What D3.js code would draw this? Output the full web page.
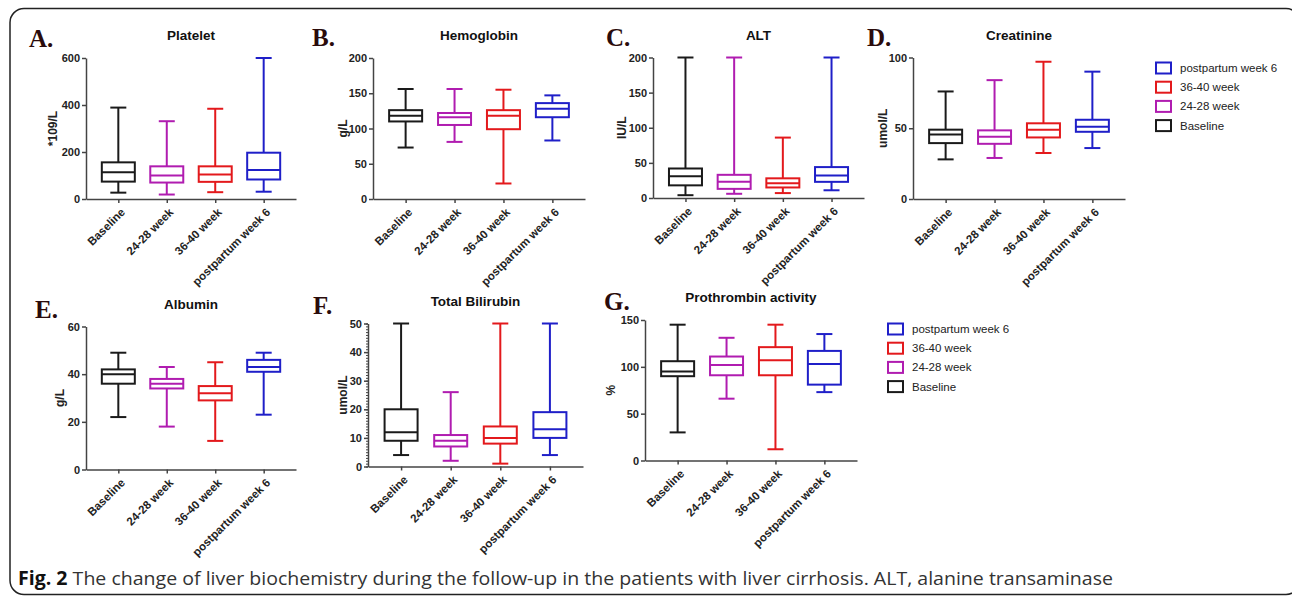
<!DOCTYPE html>
<html>
<head>
<meta charset="utf-8">
<script src="https://cdn.jsdelivr.net/npm/d3@7"></script>
<style>
  body { margin: 0; background: #fff; }
  svg { display: block; }
  .tick text { font-family: Arial, "Liberation Sans", sans-serif; font-weight: bold; font-size: 11px; fill: #222; }
  .xaxis .tick text { font-size: 11.5px; }
  .domain, .tick line { stroke: #444; stroke-width: 1.5; }
</style>
</head>
<body>
<script>
// Groups (x categories)
const groups = ["Baseline", "24-28 week", "36-40 week", "postpartum week 6"];

// Box stats per group: [min, q1, median, q3, max]
const platelet    = [[27, 74, 114, 156, 389], [19, 70, 100, 139, 331], [29, 73, 104, 139, 384], [31, 83, 123, 197, 600]];
const hemoglobin  = [[73, 110, 118, 126, 156], [81, 105, 116, 122, 156], [22, 99, 118, 126, 155], [83, 116, 128, 136, 147]];
const alt         = [[4, 18, 31, 42, 200], [6, 13, 23, 33, 200], [7, 15, 21, 28, 86], [11, 23, 32, 44, 200]];
const creatinine  = [[28, 39.5, 45.5, 49, 76], [29, 39, 44, 48.5, 84], [32.5, 43.5, 49, 53.5, 97], [36, 47.5, 51, 56, 90]];
const albumin     = [[22, 36, 40, 42, 49], [18, 34, 36, 38, 43], [12, 29, 32, 35, 45], [23, 41, 43, 46, 49]];
const bilirubin   = [[4, 9, 12, 20, 50], [2, 7, 9, 11, 26], [1, 8, 10, 14, 50], [4, 10, 13, 19, 50]];
const prothrombin = [[30, 90, 95, 106, 145], [66, 91, 102, 111, 131], [12, 91, 107, 121, 145], [73, 81, 103, 117, 135]];

// Tick values
const plateletTicks    = [0, 200, 400, 600];
const hemoglobinTicks  = [0, 50, 100, 150, 200];
const altTicks         = [0, 50, 100, 150, 200];
const creatinineTicks  = [0, 50, 100];
const albuminTicks     = [0, 20, 40, 60];
const bilirubinTicks   = [0, 10, 20, 30, 40, 50];
const prothrombinTicks = [0, 50, 100, 150];

const legendOrder = ["postpartum week 6", "36-40 week", "24-28 week", "Baseline"];
const caption = "The change of liver biochemistry during the follow-up in the patients with liver cirrhosis. ALT, alanine transaminase";

const color = d3.scaleOrdinal()
    .domain(groups)
    .range(["#1a1a1a", "#b01cb0", "#e3191c", "#1f1fc8"]);

// Panel layout (pixel positions)
const panels = [
  { letter: "A.", title: "Platelet", data: platelet, ticks: plateletTicks, unit: "*109/L",
    x0: 86, x1: 296, top: 58, bottom: 199, lx: 29, ly: 47, yl: 33 },
  { letter: "B.", title: "Hemoglobin", data: hemoglobin, ticks: hemoglobinTicks, unit: "g/L",
    x0: 373, x1: 585, top: 58, bottom: 199, lx: 312, ly: 46, yl: 30 },
  { letter: "C.", title: "ALT", data: alt, ticks: altTicks, unit: "IU/L",
    x0: 653, x1: 864, top: 57.5, bottom: 198, lx: 606, ly: 46, yl: 31 },
  { letter: "D.", title: "Creatinine", data: creatinine, ticks: creatinineTicks, unit: "umol/L",
    x0: 913, x1: 1125, top: 57.5, bottom: 199, lx: 867, ly: 46, yl: 30, legend: [1156, 68] },
  { letter: "E.", title: "Albumin", data: albumin, ticks: albuminTicks, unit: "g/L",
    x0: 86, x1: 296, top: 326.5, bottom: 469.5, lx: 35, ly: 318, yl: 26 },
  { letter: "F.", title: "Total Bilirubin", data: bilirubin, ticks: bilirubinTicks, unit: "umol/L",
    x0: 368, x1: 583, top: 323.5, bottom: 466.5, lx: 313, ly: 314, yl: 25, minor: 1 },
  { letter: "G.", title: "Prothrombin activity", data: prothrombin, ticks: prothrombinTicks, unit: "%",
    x0: 645, x1: 857, top: 320, bottom: 460.5, lx: 604, ly: 310, yl: 34, legend: [888, 329] }
];

const W = 1292, H = 599;
const svg = d3.select("body").append("svg")
    .attr("width", W)
    .attr("height", H);

// Outer frame
svg.append("rect")
    .attr("x", 10).attr("y", 8.5)
    .attr("width", 1290).attr("height", 586)
    .attr("rx", 14)
    .attr("fill", "none")
    .attr("stroke", "#222")
    .attr("stroke-width", 1.5);

const boxW = 33, capW = 16;

panels.forEach(p => {
  const g = svg.append("g");

  const x = d3.scalePoint()
      .domain(groups)
      .range([p.x0, p.x1])
      .padding(0.667);

  const y = d3.scaleLinear()
      .domain([0, d3.max(p.ticks)])
      .range([p.bottom, p.top]);

  // minor ticks (Total Bilirubin)
  if (p.minor) {
    g.append("g")
     .attr("transform", `translate(${p.x0},0)`)
     .call(d3.axisLeft(y).tickValues(d3.range(0, d3.max(p.ticks) + 0.01, p.minor)).tickSize(2).tickFormat(""))
     .call(a => a.select(".domain").remove())
     .selectAll("line").style("stroke-width", 1);
  }

  g.append("g")
   .attr("transform", `translate(${p.x0},0)`)
   .call(d3.axisLeft(y).tickValues(p.ticks).tickSize(4).tickSizeOuter(0).tickPadding(2));

  g.append("g")
   .attr("class", "xaxis")
   .attr("transform", `translate(0,${p.bottom})`)
   .call(d3.axisBottom(x).tickSize(4).tickSizeOuter(0))
   .selectAll("text")
   .attr("x", 0).attr("y", 0).attr("dy", "0.35em")
   .attr("text-anchor", "end")
   .attr("transform", "translate(4,11) rotate(-45)");

  // Boxes
  const box = g.selectAll(".box")
      .data(p.data.map((s, i) => ({ key: groups[i], s: s })))
      .enter().append("g")
      .attr("class", "box")
      .attr("stroke", d => color(d.key))
      .attr("stroke-width", 2)
      .attr("fill", "none");

  box.append("line")
     .attr("x1", d => x(d.key)).attr("x2", d => x(d.key))
     .attr("y1", d => y(d.s[0])).attr("y2", d => y(d.s[4]));

  box.selectAll(".cap")
     .data(d => [d.s[0], d.s[4]].map(v => ({ key: d.key, v: v })))
     .enter().append("line")
     .attr("x1", d => x(d.key) - capW / 2).attr("x2", d => x(d.key) + capW / 2)
     .attr("y1", d => y(d.v)).attr("y2", d => y(d.v));

  box.append("rect")
     .attr("x", d => x(d.key) - boxW / 2)
     .attr("y", d => y(d.s[3]))
     .attr("width", boxW)
     .attr("height", d => y(d.s[1]) - y(d.s[3]))
     .attr("fill", "#fff");

  box.append("line")
     .attr("x1", d => x(d.key) - boxW / 2).attr("x2", d => x(d.key) + boxW / 2)
     .attr("y1", d => y(d.s[2])).attr("y2", d => y(d.s[2]));

  // Title
  g.append("text")
   .attr("x", (p.x0 + p.x1) / 2)
   .attr("y", p.top - 18)
   .attr("text-anchor", "middle")
   .style("font-family", "Arial, 'Liberation Sans', sans-serif")
   .style("font-weight", "bold")
   .style("font-size", "13.5px")
   .style("fill", "#111")
   .text(p.title);

  // Panel letter
  g.append("text")
   .attr("x", p.lx)
   .attr("y", p.ly)
   .style("font-family", "'Liberation Serif', 'Times New Roman', serif")
   .style("font-weight", "bold")
   .style("font-size", "25px")
   .style("fill", "#2a0b0b")
   .text(p.letter);

  // Y axis label
  g.append("text")
   .attr("transform", `translate(${p.x0 - p.yl},${(p.top + p.bottom) / 2}) rotate(-90)`)
   .attr("text-anchor", "middle")
   .attr("dy", "0.35em")
   .style("font-family", "Arial, 'Liberation Sans', sans-serif")
   .style("font-weight", "bold")
   .style("font-size", "12px")
   .style("fill", "#222")
   .text(p.unit);

  // Legend
  if (p.legend) {
    const lg = svg.append("g")
        .attr("transform", `translate(${p.legend[0]},${p.legend[1]})`);
    const item = lg.selectAll(".legend-item")
        .data(legendOrder)
        .enter().append("g")
        .attr("class", "legend-item")
        .attr("transform", (d, i) => `translate(0,${i * 19.2})`);
    item.append("rect")
        .attr("x", 0).attr("y", -5.5)
        .attr("width", 15).attr("height", 11)
        .attr("fill", "none")
        .attr("stroke", d => color(d))
        .attr("stroke-width", 2);
    item.append("text")
        .attr("x", 24).attr("y", 0)
        .attr("dy", "0.35em")
        .style("font-family", "Arial, 'Liberation Sans', sans-serif")
        .style("font-size", "11.5px")
        .style("fill", "#222")
        .text(d => d);
  }
});

// Caption
const cap = svg.append("text")
    .attr("x", 18)
    .attr("y", 585)
    .attr("textLength", 1095)
    .attr("lengthAdjust", "spacingAndGlyphs")
    .style("font-family", "'Open Sans', 'Noto Sans', sans-serif")
    .style("font-size", "19px")
    .style("fill", "#333");
cap.append("tspan").style("font-weight", "bold").style("fill", "#111").text("Fig. 2");
cap.append("tspan").text(" " + caption);
</script>
</body>
</html>
